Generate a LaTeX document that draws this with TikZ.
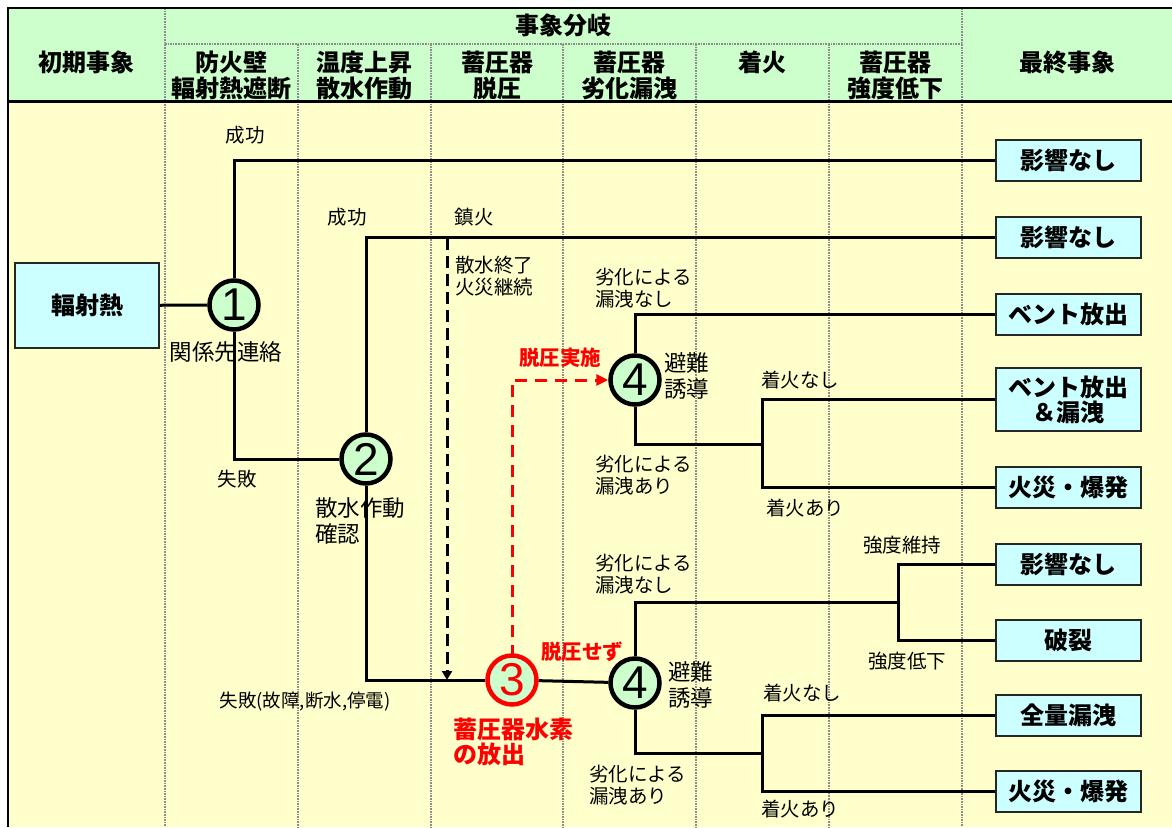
\documentclass[tikz,border=0pt]{standalone}
\usepackage{fontspec}
\setmainfont{Noto Sans CJK JP}
\newfontfamily\numfont{Liberation Sans}
\usetikzlibrary{arrows.meta}
\definecolor{hdrc}{HTML}{CCFFCC}
\definecolor{bodyc}{HTML}{FFFFCC}
\definecolor{boxc}{HTML}{CCFFFF}
\definecolor{circc}{HTML}{CCFFCC}
\definecolor{divc}{HTML}{8C8C8C}
\begin{document}
\begin{tikzpicture}[x=1pt,y=-1pt,
  divider/.style={divc,line width=1.6pt,densely dotted},
  frameline/.style={black,line width=2.5pt},
  hdrtext/.style={font=\fontsize{24}{26}\selectfont\bfseries,align=center,inner sep=0pt},
  evt/.style={circle,draw,line width=4.5pt,fill=circc,minimum size=49pt,inner sep=0pt,font=\numfont\fontsize{46}{46}\selectfont},
  endbox/.style={draw=black!85,line width=2pt,fill=boxc,minimum width=145pt,minimum height=41pt,inner sep=0pt,align=center,font=\fontsize{24}{25}\selectfont\bfseries},
  branch/.style={line width=3pt},
  lbl/.style={font=\fontsize{19.5}{22.5}\selectfont,inner sep=0pt,align=left},
  biglbl/.style={font=\fontsize{22.5}{26}\selectfont,inner sep=0pt,align=left},
  redlbl/.style={red,font=\fontsize{20.5}{24}\selectfont\bfseries,inner sep=0pt,align=left},
  redbig/.style={red,font=\fontsize{24}{25}\selectfont\bfseries,inner sep=0pt,align=left},
]
\useasboundingbox (0,0) rectangle (1172,827);
\fill[white] (0,0) rectangle (1172,827);
\fill[hdrc] (8,8) rectangle (1172,101);
\fill[bodyc] (8,101) rectangle (1172,827);
% dividers
\foreach \x in {165,962} \draw[divider] (\x,8) -- (\x,827);
\foreach \x in {298,431,563,696,829} \draw[divider] (\x,44) -- (\x,827);
\draw[divider] (165,44) -- (962,44);
% frame
\draw[frameline] (8,827) -- (8,8) -- (1172,8);
\draw[frameline,line width=3pt] (8,101) -- (1172,101);
% header texts
\node[hdrtext] (hinit) at (86,62) {初期事象};
\node[hdrtext] (hfinal) at (1067,62) {最終事象};
\node[hdrtext] (hbranch) at (563,25) {事象分岐};
\node[hdrtext] (hc1) at (231.5,75) {防火壁\\輻射熱遮断};
\node[hdrtext] (hc2) at (364.5,75) {温度上昇\\散水作動};
\node[hdrtext] (hc3) at (497,75) {蓄圧器\\脱圧};
\node[hdrtext] (hc4) at (629.5,75) {蓄圧器\\劣化漏洩};
\node[hdrtext] (hc5) at (762.5,62) {着火};
\node[hdrtext] (hc6) at (895.5,75) {蓄圧器\\強度低下};
% start box
\node[endbox,minimum width=144pt,minimum height=85pt] (start) at (87,305.5) {輻射熱};
% event circles
\node[evt] (c1) at (234,305) {1};
\node[evt] (c2) at (366,459) {2};
\node[evt,draw=red,text=red] (c3) at (512,680) {3};
\node[evt] (c4a) at (635,380) {4};
\node[evt] (c4b) at (635,683) {4};
% end boxes
\node[endbox] (o1) at (1068.5,160) {影響なし};
\node[endbox] (o2) at (1068.5,237) {影響なし};
\node[endbox] (o3) at (1068.5,314) {ベント放出};
\node[endbox,minimum height=63pt] (o4) at (1068.5,399.5) {ベント放出\\＆漏洩};
\node[endbox] (o5) at (1068.5,487) {火災・爆発};
\node[endbox] (o6) at (1068.5,564) {影響なし};
\node[endbox] (o7) at (1068.5,640) {破裂};
\node[endbox] (o8) at (1068.5,715) {全量漏洩};
\node[endbox] (o9) at (1068.5,791) {火災・爆発};
% junction coordinates
\coordinate (j1m) at (762,444);
\coordinate (j1t) at (762,399.5);
\coordinate (j1b) at (762,487);
\coordinate (j2m) at (898,602);
\coordinate (j2t) at (898,564);
\coordinate (j2b) at (898,640);
\coordinate (j3m) at (762,753);
\coordinate (j3t) at (762,715);
\coordinate (j3b) at (762,791);
\coordinate (d1) at (447,238);
\coordinate (d2) at (447,680);
% connectors
\draw[branch] (start) -- (c1);
\draw[branch] (c1.north) |- (o1.west);
\draw[branch] (c1.south) |- (c2.west);
\draw[branch] (c2.north) |- (o2.west);
\draw[branch] (c2.south) |- (c3.west);
\draw[branch] (c3) -- (c4b);
\draw[branch] (c4a.north) |- (o3.west);
\draw[branch] (c4a.south) |- (j1m);
\draw[branch] (o4.west) -- (j1t) -- (j1b) -- (o5.west);
\draw[branch] (c4b.north) |- (j2m);
\draw[branch] (o6.west) -- (j2t) -- (j2b) -- (o7.west);
\draw[branch] (c4b.south) |- (j3m);
\draw[branch] (o8.west) -- (j3t) -- (j3b) -- (o9.west);
\draw[line width=3pt,dash pattern=on 12pt off 6pt,-{Triangle[length=9pt,width=10pt]}] (d1) -- (d2);
\draw[red,line width=3pt,dash pattern=on 12pt off 8pt,-{Triangle[length=12pt,width=11pt]}] ([yshift=-4pt]c3.north) |- (c4a.west);
% labels
\node[lbl] (l1) at (245,135) {成功};
\node[biglbl] (l2) at (226,352) {関係先連絡};
\node[lbl] (l3) at (237,479) {失敗};
\node[lbl] (l4) at (347,217) {成功};
\node[lbl] (l5) at (474,217) {鎮火};
\node[lbl,anchor=west] (l6) at (455,276) {散水終了\\火災継続};
\node[biglbl,anchor=west] (l7) at (315,521) {散水作動\\確認};
\node[lbl,font=\fontsize{18.5}{22}\selectfont] (l8) at (305,702) {失敗(故障,断水,停電)};
\node[redlbl] (l9) at (560,358) {脱圧実施};
\node[redlbl] (l10) at (582,652) {脱圧せず};
\node[redbig,anchor=west] (l11) at (453,742) {蓄圧器水素\\の放出};
\node[lbl,anchor=west] (l12) at (595,288) {劣化による\\漏洩なし};
\node[biglbl,anchor=west] (l13) at (664,376) {避難\\誘導};
\node[lbl,anchor=west] (l14) at (595,475) {劣化による\\漏洩あり};
\node[lbl] (l15) at (800,380) {着火なし};
\node[lbl] (l16) at (805,508) {着火あり};
\node[lbl,anchor=west] (l17) at (595,574) {劣化による\\漏洩なし};
\node[biglbl,anchor=west] (l18) at (668,685) {避難\\誘導};
\node[lbl,anchor=west] (l19) at (589,785) {劣化による\\漏洩あり};
\node[lbl] (l20) at (902,545) {強度維持};
\node[lbl] (l21) at (907,661) {強度低下};
\node[lbl] (l22) at (802,693) {着火なし};
\node[lbl] (l23) at (800,809) {着火あり};
\end{tikzpicture}
\end{document}
